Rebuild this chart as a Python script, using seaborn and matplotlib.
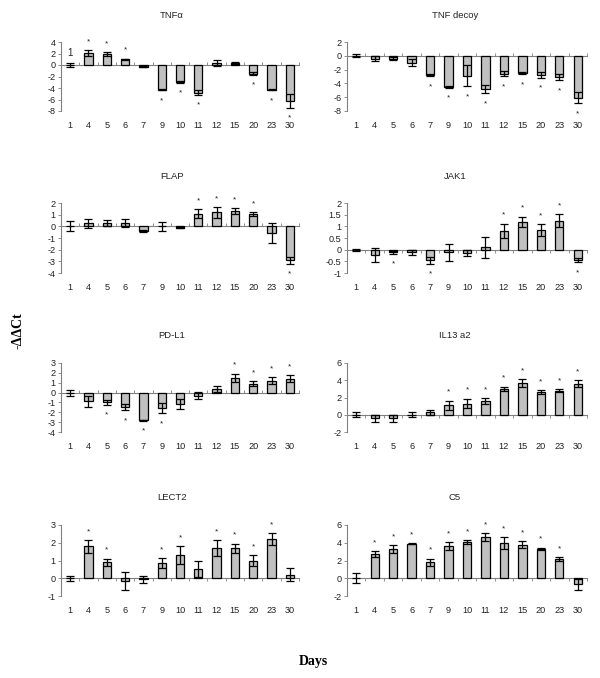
import matplotlib
matplotlib.use("Agg")
import matplotlib.pyplot as plt
import matplotlib.transforms as mtransforms
import numpy as np
import pandas as pd
import seaborn as sns

# ---------------- data ----------------
days = ["1", "4", "5", "6", "7", "9", "10", "11", "12", "15", "20", "23", "30"]

tnfa_mean = [0.0, 2.1, 1.9, 1.0, -0.3, -4.3, -2.9, -4.8, 0.4, 0.4, -1.5, -4.3, -6.2]
tnfa_err = [0.4, 0.5, 0.3, 0.1, 0.1, 0.1, 0.2, 0.4, 0.5, 0.2, 0.2, 0.1, 1.2]
tnfa_sig = ["4", "5", "6", "9", "10", "11", "20", "23", "30"]

decoy_mean = [0.0, -0.4, -0.4, -1.0, -2.8, -4.5, -2.9, -4.8, -2.6, -2.5, -2.8, -3.1, -6.1]
decoy_err = [0.2, 0.4, 0.2, 0.5, 0.2, 0.1, 1.5, 0.6, 0.4, 0.2, 0.4, 0.4, 0.8]
decoy_sig = ["7", "9", "10", "11", "12", "15", "20", "23", "30"]

flap_mean = [0.0, 0.25, 0.3, 0.3, -0.4, 0.0, -0.1, 1.1, 1.2, 1.3, 1.05, -0.6, -2.9]
flap_err = [0.43, 0.35, 0.25, 0.35, 0.05, 0.4, 0.05, 0.35, 0.45, 0.25, 0.15, 0.85, 0.3]
flap_sig = ["11", "12", "15", "20", "30"]

jak1_mean = [-0.02, -0.22, -0.12, -0.12, -0.45, -0.12, -0.15, 0.1, 0.8, 1.2, 0.85, 1.25, -0.45]
jak1_err = [0.03, 0.3, 0.05, 0.1, 0.15, 0.35, 0.12, 0.45, 0.32, 0.22, 0.25, 0.28, 0.08]
jak1_sig = ["5", "7", "12", "15", "20", "23", "30"]

pdl1_mean = [0.0, -0.9, -1.0, -1.5, -2.8, -1.6, -1.2, -0.3, 0.35, 1.5, 0.9, 1.2, 1.4]
pdl1_err = [0.3, 0.6, 0.25, 0.3, 0.05, 0.5, 0.5, 0.35, 0.3, 0.42, 0.25, 0.35, 0.35]
pdl1_sig = ["5", "6", "7", "9", "15", "20", "23", "30"]

il13_mean = [0.0, -0.4, -0.4, 0.0, 0.3, 1.1, 1.3, 1.6, 3.0, 3.7, 2.6, 2.8, 3.6]
il13_err = [0.3, 0.4, 0.4, 0.3, 0.3, 0.55, 0.55, 0.35, 0.25, 0.45, 0.25, 0.15, 0.4]
il13_sig = ["9", "10", "11", "12", "15", "20", "23", "30"]

lect2_mean = [0.0, 1.8, 0.9, -0.15, -0.05, 0.85, 1.3, 0.5, 1.7, 1.7, 1.0, 2.2, 0.2]
lect2_err = [0.15, 0.35, 0.2, 0.5, 0.2, 0.27, 0.5, 0.45, 0.45, 0.25, 0.3, 0.35, 0.35]
lect2_sig = ["4", "5", "9", "10", "12", "15", "20", "23"]

c5_mean = [0.0, 2.7, 3.3, 3.9, 1.8, 3.6, 4.1, 4.6, 4.0, 3.8, 3.3, 2.2, -0.7]
c5_err = [0.55, 0.35, 0.4, 0.03, 0.4, 0.45, 0.2, 0.45, 0.65, 0.35, 0.15, 0.2, 0.6]
c5_sig = ["4", "5", "6", "7", "9", "10", "11", "12", "15", "20", "23"]

titles = ["TNFα", "TNF decoy", "FLAP", "JAK1", "PD-L1", "IL13 a2", "LECT2", "C5"]
means = [tnfa_mean, decoy_mean, flap_mean, jak1_mean, pdl1_mean, il13_mean, lect2_mean, c5_mean]
errs = [tnfa_err, decoy_err, flap_err, jak1_err, pdl1_err, il13_err, lect2_err, c5_err]
sigs = [tnfa_sig, decoy_sig, flap_sig, jak1_sig, pdl1_sig, il13_sig, lect2_sig, c5_sig]
yticks = [
    [-8, -6, -4, -2, 0, 2, 4],
    [-8, -6, -4, -2, 0, 2],
    [-4, -3, -2, -1, 0, 1, 2],
    [-1, -0.5, 0, 0.5, 1, 1.5, 2],
    [-4, -3, -2, -1, 0, 1, 2, 3],
    [-2, 0, 2, 4, 6],
    [-1, 0, 1, 2, 3],
    [-2, 0, 2, 4, 6],
]
ytick_labels = [
    None, None, None,
    ["-1", "-0.5", "0", "0.5", "1", "1.5", "2"],
    None, None, None, None,
]

# ---------------- layout ----------------
W, H = 600, 678
sns.set_theme(style="white")
plt.rcParams["font.family"] = ["Liberation Sans", "DejaVu Sans"]
plt.rcParams["axes.unicode_minus"] = False
fig = plt.figure(figsize=(W / 100, H / 100), dpi=100)

col_x = [(61, 299), (347, 587)]
row_y = [(42, 111), (203, 273), (363, 432), (525, 596)]
title_x = [0.466, 0.45]

GRAY = "#c0c0c0"
AX_COL = "#808080"
TXT = "#222222"

for i, title in enumerate(titles):
    r, c = divmod(i, 2)
    x0, x1 = col_x[c]
    y0, y1 = row_y[r]
    ax = fig.add_axes([x0 / W, 1 - y1 / H, (x1 - x0) / W, (y1 - y0) / H])

    df = pd.DataFrame({"day": days, "val": means[i], "err": errs[i]})
    sns.barplot(data=df, x="day", y="val", order=days, color=GRAY,
                edgecolor="black", linewidth=0.9, width=0.45, errorbar=None,
                saturation=1, ax=ax)
    xs = np.arange(len(days))
    ax.errorbar(xs, df["val"], yerr=df["err"], fmt="none", ecolor="black",
                elinewidth=0.9, capsize=2.6, capthick=0.9, zorder=5)

    # significance stars
    for d in sigs[i]:
        k = days.index(d)
        m, e = means[i][k], errs[i][k]
        if m >= 0:
            ax.annotate("*", (k, m + e), xytext=(0, 5), textcoords="offset points",
                        ha="center", va="baseline", fontsize=6, color=TXT,
                        annotation_clip=False)
        else:
            ax.annotate("*", (k, m - e), xytext=(0, -8.6), textcoords="offset points",
                        ha="center", va="baseline", fontsize=6, color=TXT,
                        annotation_clip=False)

    yt = yticks[i]
    ax.set_ylim(yt[0], yt[-1])
    ax.set_xlim(-0.5, len(days) - 0.5)
    ax.set_yticks(yt)
    if ytick_labels[i] is not None:
        ax.set_yticklabels(ytick_labels[i])
    ax.set_xlabel("")
    ax.set_ylabel("")

    for s in ["top", "right", "bottom"]:
        ax.spines[s].set_visible(False)
    ax.spines["left"].set_color(AX_COL)
    ax.spines["left"].set_linewidth(0.8)
    ax.tick_params(axis="y", direction="out", length=2.5, width=0.6, color=AX_COL,
                   labelsize=6.6, pad=1.5, labelcolor=TXT, left=True)
    ax.tick_params(axis="x", length=0, labelsize=6.6, pad=7, labelcolor=TXT)

    # zero line with category separators
    frac = (0 - yt[0]) / (yt[-1] - yt[0])
    sec = ax.secondary_xaxis(frac)
    sec.set_xticks(np.arange(len(days) + 1) - 0.5)
    sec.set_xticklabels([])
    sec.tick_params(direction="out", length=2, width=0.6, color=AX_COL)
    for s in sec.spines.values():
        s.set_color(AX_COL)
        s.set_linewidth(0.8)

    ax.text(title_x[c], 1.0, title,
            transform=ax.transAxes + mtransforms.ScaledTranslation(0, 27 / 100, fig.dpi_scale_trans),
            ha="center", va="center", fontsize=6.8, color=TXT)

    if i == 0:
        ax.text(0, 2.0, "1", ha="center", va="center", fontsize=7, color=TXT)

fig.text(18 / W, 1 - 331 / H, "-ΔΔCt", rotation=90, ha="center", va="center",
         fontsize=10, fontweight="bold", color="black",
         family=["Liberation Serif", "DejaVu Serif"])
fig.text(313 / W, 1 - 662 / H, "Days", ha="center", va="center",
         fontsize=10, fontweight="bold", color="black",
         family=["Liberation Serif", "DejaVu Serif"])

fig.savefig("out.png", dpi=100)
